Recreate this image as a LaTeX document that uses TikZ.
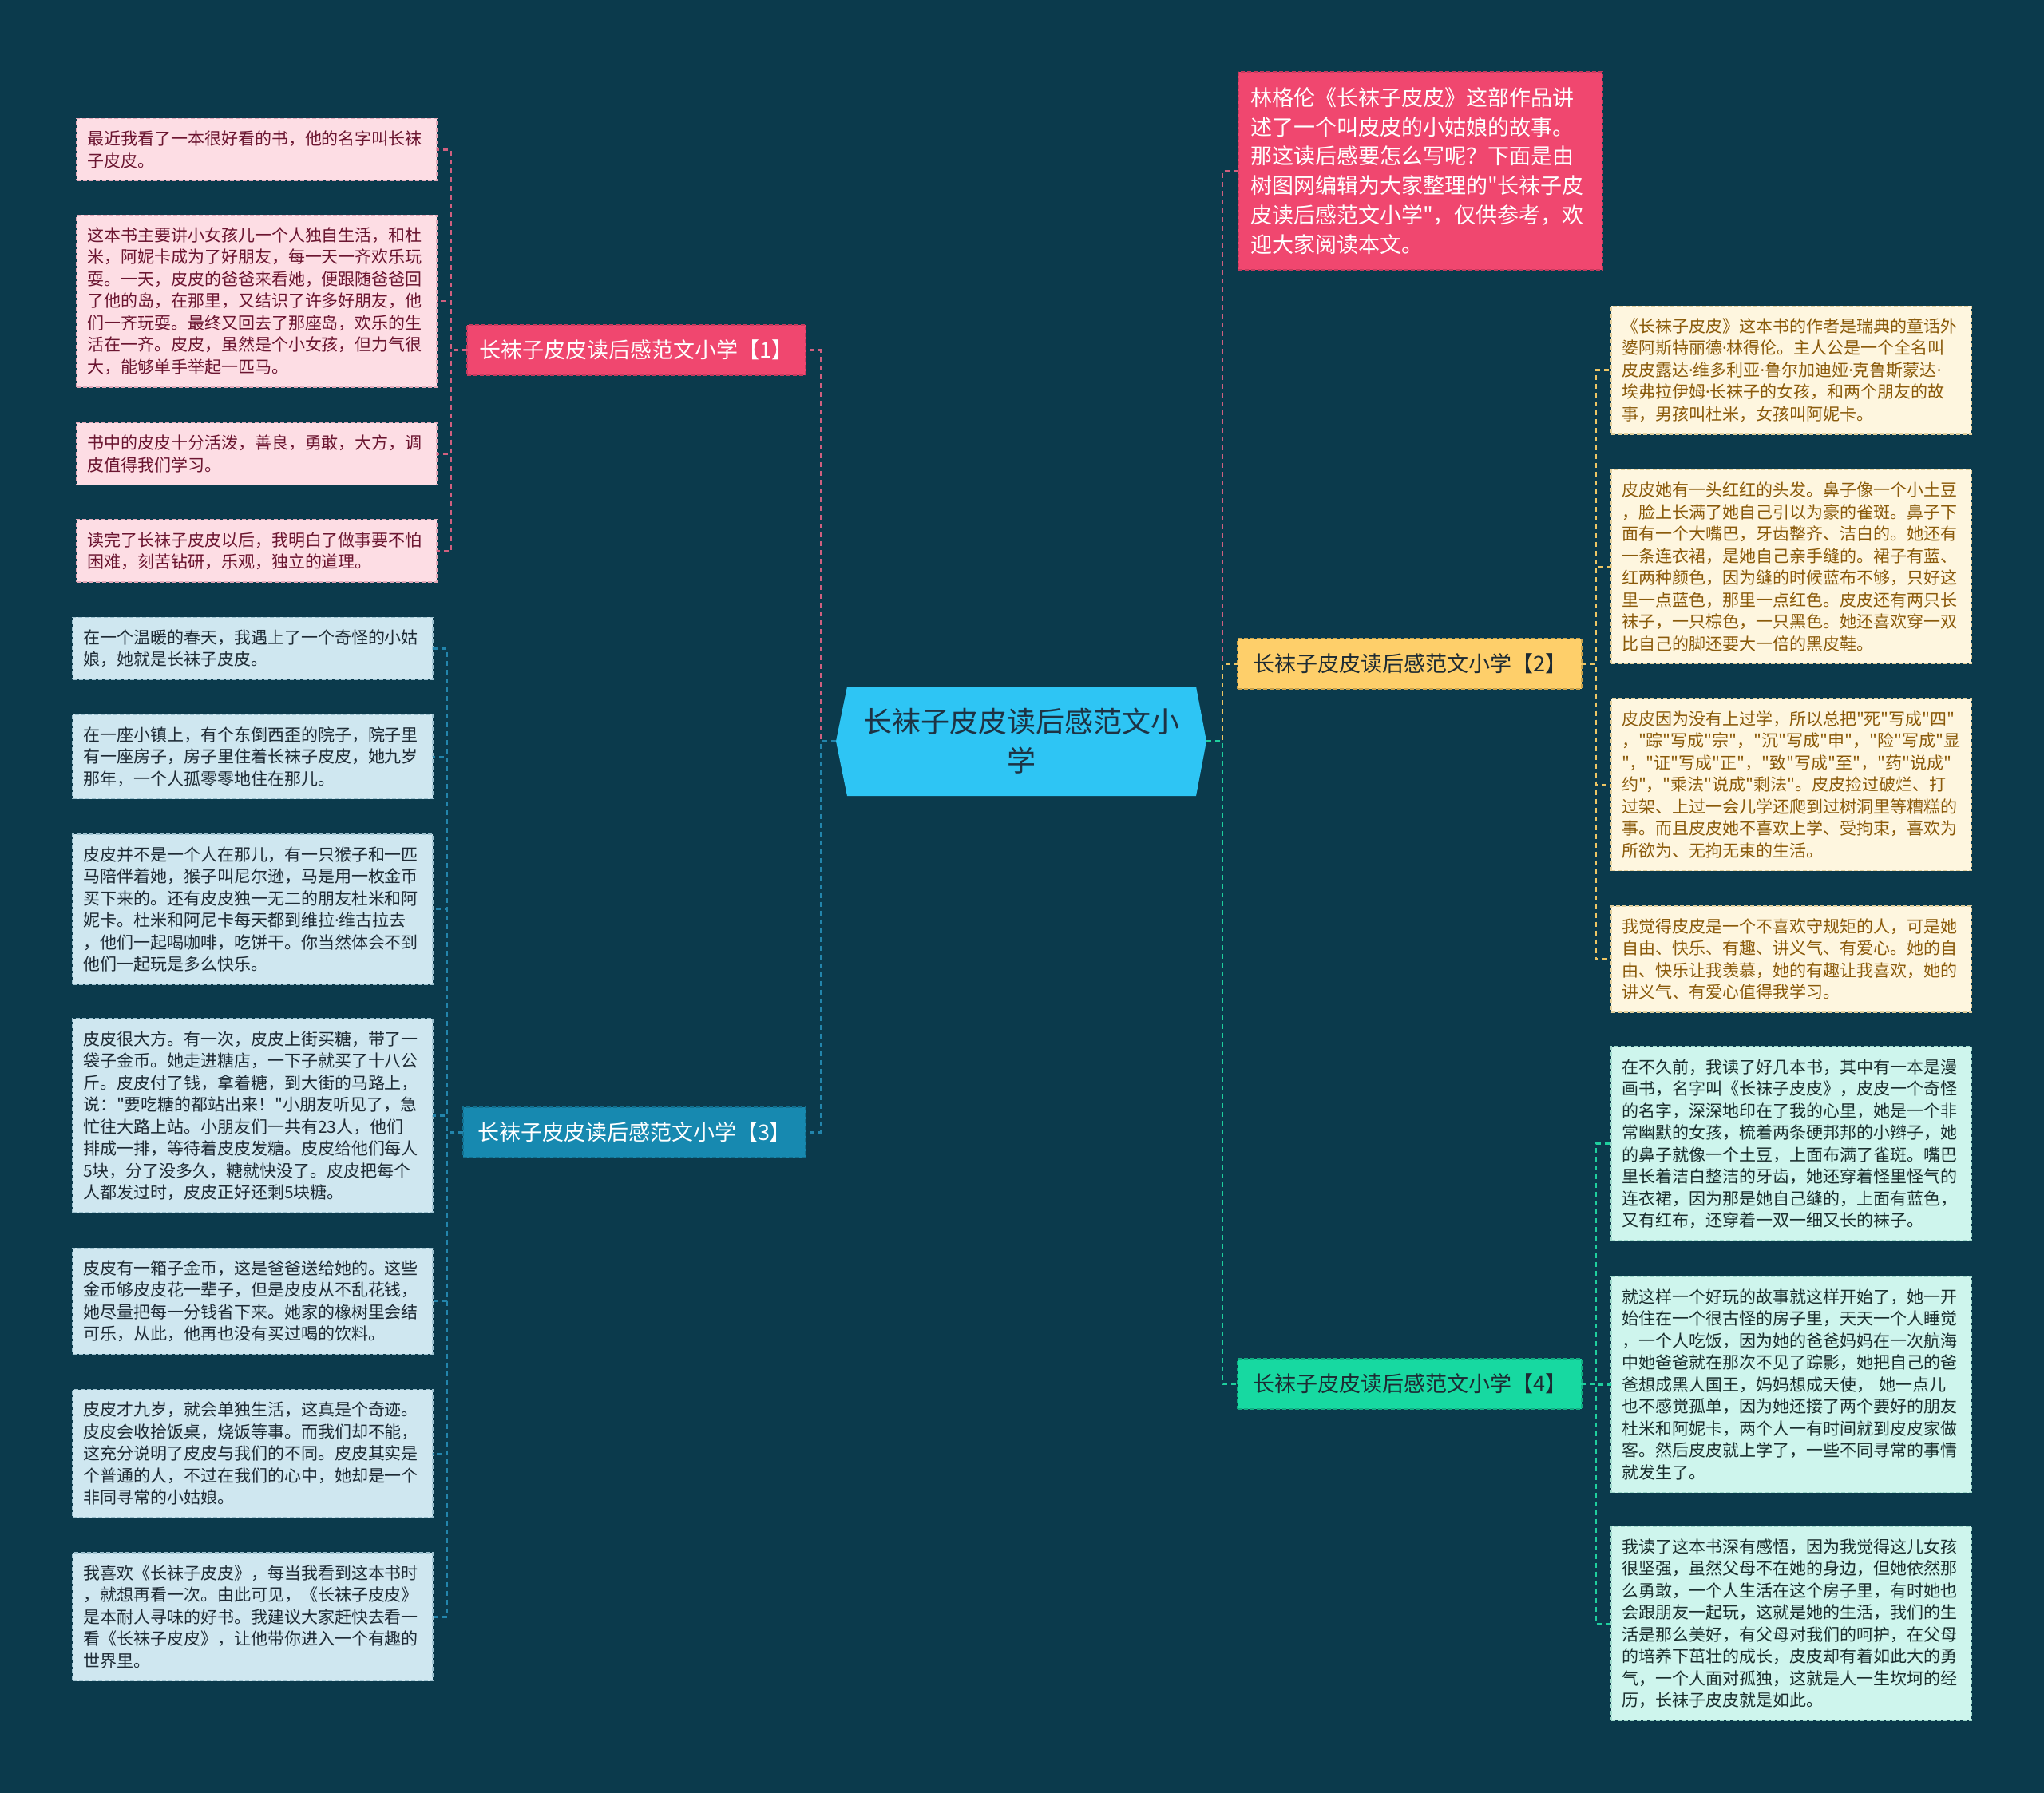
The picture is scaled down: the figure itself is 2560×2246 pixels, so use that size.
\documentclass[tikz,border=0pt]{standalone}
\usepackage{fontspec}
\setmainfont{Noto Sans CJK SC}[Ligatures=TeXOff]
\newfontfamily\latf{Noto Sans}[Ligatures=TeXOff]
\newcommand\mdot{{\latf ·}}
\definecolor{bgc}{HTML}{0B3A4C}
\definecolor{cfill}{HTML}{2EC5F4}
\definecolor{ctext}{HTML}{1D3344}
\definecolor{redb}{HTML}{F0476F}
\definecolor{redbe}{HTML}{C73A5E}
\definecolor{redl}{HTML}{D0607F}
\definecolor{blueb}{HTML}{1789B0}
\definecolor{bluebe}{HTML}{12708F}
\definecolor{bluel}{HTML}{2385AC}
\definecolor{yelb}{HTML}{FECF6A}
\definecolor{yelbe}{HTML}{C9A24C}
\definecolor{yell}{HTML}{EEC665}
\definecolor{grnb}{HTML}{17D9A1}
\definecolor{grnbe}{HTML}{12AE82}
\definecolor{grnl}{HTML}{1FCF9E}
\definecolor{pinkfill}{HTML}{FDDDE4}
\definecolor{pinkedge}{HTML}{E3A9B9}
\definecolor{pinktext}{HTML}{6B1530}
\definecolor{bluefill}{HTML}{CFE7F0}
\definecolor{blueedge}{HTML}{9FC3D1}
\definecolor{bluetext}{HTML}{1E2B35}
\definecolor{yelfill}{HTML}{FEF6DF}
\definecolor{yeledge}{HTML}{E2CF9C}
\definecolor{yeltext}{HTML}{8A5A0A}
\definecolor{grnfill}{HTML}{CEF5ED}
\definecolor{grnedge}{HTML}{9ED9CB}
\definecolor{grntext}{HTML}{1A2E2E}
\definecolor{darktext}{HTML}{1D2B33}
\tikzset{
  leafbase/.style={anchor=north west, text width=425pt, inner xsep=13pt, inner ysep=0pt, outer sep=0pt, align=left, font=\fontsize{21}{27.5}\selectfont, line width=1.5pt, dash pattern=on 5pt off 3pt},
  pinkleaf/.style={leafbase, fill=pinkfill, draw=pinkedge, text=pinktext},
  blueleaf/.style={leafbase, fill=bluefill, draw=blueedge, text=bluetext},
  yelleaf/.style={leafbase, fill=yelfill, draw=yeledge, text=yeltext},
  grnleaf/.style={leafbase, fill=grnfill, draw=grnedge, text=grntext},
  branchbase/.style={anchor=north west, minimum height=63pt, inner sep=0pt, outer sep=0pt, font=\fontsize{27}{32}\selectfont, line width=1.5pt, dash pattern=on 5pt off 3pt, align=center},
  introbox/.style={anchor=north west, text width=426pt, inner xsep=15pt, inner ysep=0pt, outer sep=0pt, align=left, font=\fontsize{27}{36.7}\selectfont, line width=1.5pt, dash pattern=on 5pt off 3pt, fill=redb, draw=redbe, text=white, minimum height=248pt},
  centernode/.style={minimum width=464pt, minimum height=137pt, inner sep=0pt, outer sep=0pt, align=center, font=\fontsize{36}{49}\selectfont, text=ctext},
  link/.style={line width=2.5pt, dash pattern=on 6pt off 5pt},
}
\begin{document}
\begin{tikzpicture}[x=1pt,y=-1pt]
\fill[bgc] (0,0) rectangle (2560,2246);
\useasboundingbox (0,0) rectangle (2560,2246);

% center
\fill[cfill] (1061,860) -- (1047,928.5) -- (1061,997) -- (1498,997) -- (1511,928.5) -- (1498,860) -- cycle;
\node[centernode] (c) at (1279,928.5) {长袜子皮皮读后感范文小\\学};

% branches
\node[branchbase, minimum width=424pt, fill=redb, draw=redbe, text=white] (b1) at (585,407) {长袜子皮皮读后感范文小学【1】};
\node[branchbase, minimum width=429pt, fill=blueb, draw=bluebe, text=white] (b3) at (580,1387) {长袜子皮皮读后感范文小学【3】};
\node[branchbase, minimum width=431pt, fill=yelb, draw=yelbe, text=darktext] (b2) at (1550,800) {长袜子皮皮读后感范文小学【2】};
\node[branchbase, minimum width=431pt, fill=grnb, draw=grnbe, text=darktext] (b4) at (1550,1702) {长袜子皮皮读后感范文小学【4】};

% intro
\node[introbox] (intro) at (1551,90) {林格伦《长袜子皮皮》这部作品讲\\述了一个叫皮皮的小姑娘的故事。\\那这读后感要怎么写呢？下面是由\\树图网编辑为大家整理的"长袜子皮\\皮读后感范文小学"，仅供参考，欢\\迎大家阅读本文。};

% pink leaves
\node[pinkleaf, minimum height=78pt] (l1a) at (96,148.4) {最近我看了一本很好看的书，他的名字叫长袜\\子皮皮。};
\node[pinkleaf, minimum height=215.5pt] (l1b) at (96,269.4) {这本书主要讲小女孩儿一个人独自生活，和杜\\米，阿妮卡成为了好朋友，每一天一齐欢乐玩\\耍。一天，皮皮的爸爸来看她，便跟随爸爸回\\了他的岛，在那里，又结识了许多好朋友，他\\们一齐玩耍。最终又回去了那座岛，欢乐的生\\活在一齐。皮皮，虽然是个小女孩，但力气很\\大，能够单手举起一匹马。};
\node[pinkleaf, minimum height=78pt] (l1c) at (96,529.6) {书中的皮皮十分活泼，善良，勇敢，大方，调\\皮值得我们学习。};
\node[pinkleaf, minimum height=78pt] (l1d) at (96,651) {读完了长袜子皮皮以后，我明白了做事要不怕\\困难，刻苦钻研，乐观，独立的道理。};

% blue leaves
\node[blueleaf, minimum height=78pt] (l3a) at (91,773.3) {在一个温暖的春天，我遇上了一个奇怪的小姑\\娘，她就是长袜子皮皮。};
\node[blueleaf, minimum height=105.5pt] (l3b) at (91,895) {在一座小镇上，有个东倒西歪的院子，院子里\\有一座房子，房子里住着长袜子皮皮，她九岁\\那年，一个人孤零零地住在那儿。};
\node[blueleaf, minimum height=188pt] (l3c) at (91,1045) {皮皮并不是一个人在那儿，有一只猴子和一匹\\马陪伴着她，猴子叫尼尔逊，马是用一枚金币\\买下来的。还有皮皮独一无二的朋友杜米和阿\\妮卡。杜米和阿尼卡每天都到维拉\mdot 维古拉去\\，他们一起喝咖啡，吃饼干。你当然体会不到\\他们一起玩是多么快乐。};
\node[blueleaf, minimum height=243pt] (l3d) at (91,1276) {皮皮很大方。有一次，皮皮上街买糖，带了一\\袋子金币。她走进糖店，一下子就买了十八公\\斤。皮皮付了钱，拿着糖，到大街的马路上，\\说："要吃糖的都站出来！"小朋友听见了，急\\忙往大路上站。小朋友们一共有23人，他们\\排成一排，等待着皮皮发糖。皮皮给他们每人\\5块，分了没多久，糖就快没了。皮皮把每个\\人都发过时，皮皮正好还剩5块糖。};
\node[blueleaf, minimum height=133pt] (l3e) at (91,1563.3) {皮皮有一箱子金币，这是爸爸送给她的。这些\\金币够皮皮花一辈子，但是皮皮从不乱花钱，\\她尽量把每一分钱省下来。她家的橡树里会结\\可乐，从此，他再也没有买过喝的饮料。};
\node[blueleaf, minimum height=160.5pt] (l3f) at (91,1740.7) {皮皮才九岁，就会单独生活，这真是个奇迹。\\皮皮会收拾饭桌，烧饭等事。而我们却不能，\\这充分说明了皮皮与我们的不同。皮皮其实是\\个普通的人，不过在我们的心中，她却是一个\\非同寻常的小姑娘。};
\node[blueleaf, minimum height=160.5pt] (l3g) at (91,1945) {我喜欢《长袜子皮皮》，每当我看到这本书时\\，就想再看一次。由此可见，《长袜子皮皮》\\是本耐人寻味的好书。我建议大家赶快去看一\\看《长袜子皮皮》，让他带你进入一个有趣的\\世界里。};

% yellow leaves
\node[yelleaf, minimum height=160.5pt] (r2a) at (2018,383.3) {《长袜子皮皮》这本书的作者是瑞典的童话外\\婆阿斯特丽德\mdot 林得伦。主人公是一个全名叫\\皮皮露达\mdot 维多利亚\mdot 鲁尔加迪娅\mdot 克鲁斯蒙达\mdot\\埃弗拉伊姆\mdot 长袜子的女孩，和两个朋友的故\\事，男孩叫杜米，女孩叫阿妮卡。};
\node[yelleaf, minimum height=243pt] (r2b) at (2018,588.3) {皮皮她有一头红红的头发。鼻子像一个小土豆\\，脸上长满了她自己引以为豪的雀斑。鼻子下\\面有一个大嘴巴，牙齿整齐、洁白的。她还有\\一条连衣裙，是她自己亲手缝的。裙子有蓝、\\红两种颜色，因为缝的时候蓝布不够，只好这\\里一点蓝色，那里一点红色。皮皮还有两只长\\袜子，一只棕色，一只黑色。她还喜欢穿一双\\比自己的脚还要大一倍的黑皮鞋。};
\node[yelleaf, minimum height=215.5pt] (r2c) at (2018,875) {皮皮因为没有上过学，所以总把"死"写成"四"\\，"踪"写成"宗"，"沉"写成"申"，"险"写成"显\\"，"证"写成"正"，"致"写成"至"，"药"说成"\\约"，"乘法"说成"剩法"。皮皮捡过破烂、打\\过架、上过一会儿学还爬到过树洞里等糟糕的\\事。而且皮皮她不喜欢上学、受拘束，喜欢为\\所欲为、无拘无束的生活。};
\node[yelleaf, minimum height=133pt] (r2d) at (2018,1135) {我觉得皮皮是一个不喜欢守规矩的人，可是她\\自由、快乐、有趣、讲义气、有爱心。她的自\\由、快乐让我羡慕，她的有趣让我喜欢，她的\\讲义气、有爱心值得我学习。};

% green leaves
\node[grnleaf, minimum height=243pt] (r4a) at (2018,1311) {在不久前，我读了好几本书，其中有一本是漫\\画书，名字叫《长袜子皮皮》，皮皮一个奇怪\\的名字，深深地印在了我的心里，她是一个非\\常幽默的女孩，梳着两条硬邦邦的小辫子，她\\的鼻子就像一个土豆，上面布满了雀斑。嘴巴\\里长着洁白整洁的牙齿，她还穿着怪里怪气的\\连衣裙，因为那是她自己缝的，上面有蓝色，\\又有红布，还穿着一双一细又长的袜子。};
\node[grnleaf, minimum height=270.5pt] (r4b) at (2018,1599) {就这样一个好玩的故事就这样开始了，她一开\\始住在一个很古怪的房子里，天天一个人睡觉\\，一个人吃饭，因为她的爸爸妈妈在一次航海\\中她爸爸就在那次不见了踪影，她把自己的爸\\爸想成黑人国王，妈妈想成天使， 她一点儿\\也不感觉孤单，因为她还接了两个要好的朋友\\杜米和阿妮卡，两个人一有时间就到皮皮家做\\客。然后皮皮就上学了，一些不同寻常的事情\\就发生了。};
\node[grnleaf, minimum height=243pt] (r4c) at (2018,1912.3) {我读了这本书深有感悟，因为我觉得这儿女孩\\很坚强，虽然父母不在她的身边，但她依然那\\么勇敢，一个人生活在这个房子里，有时她也\\会跟朋友一起玩，这就是她的生活，我们的生\\活是那么美好，有父母对我们的呵护，在父母\\的培养下茁壮的成长，皮皮却有着如此大的勇\\气，一个人面对孤独，这就是人一生坎坷的经\\历，长袜子皮皮就是如此。};

% connectors center
\draw[link, redl] (c.west) -- ++(-19,0) |- (b1.east);
\draw[link, bluel] (c.west) -- ++(-19,0) |- (b3.east);
\draw[link, redl] (c.east) -- ++(20,0) |- (intro.west);
\draw[link, yell] (c.east) -- ++(20,0) |- (b2.west);
\draw[link, grnl] (c.east) -- ++(20,0) |- (b4.west);

% branch 1
\foreach \t in {l1a,l1b,l1c,l1d}{\draw[link, redl] (b1.west) -- ++(-20,0) |- (\t.east);}
% branch 3
\foreach \t in {l3a,l3b,l3c,l3d,l3e,l3f,l3g}{\draw[link, bluel] (b3.west) -- ++(-20,0) |- (\t.east);}
% branch 2
\foreach \t in {r2a,r2b,r2c,r2d}{\draw[link, yell] (b2.east) -- ++(18,0) |- (\t.west);}
% branch 4
\foreach \t in {r4a,r4b,r4c}{\draw[link, grnl] (b4.east) -- ++(18,0) |- (\t.west);}
\end{tikzpicture}
\end{document}
